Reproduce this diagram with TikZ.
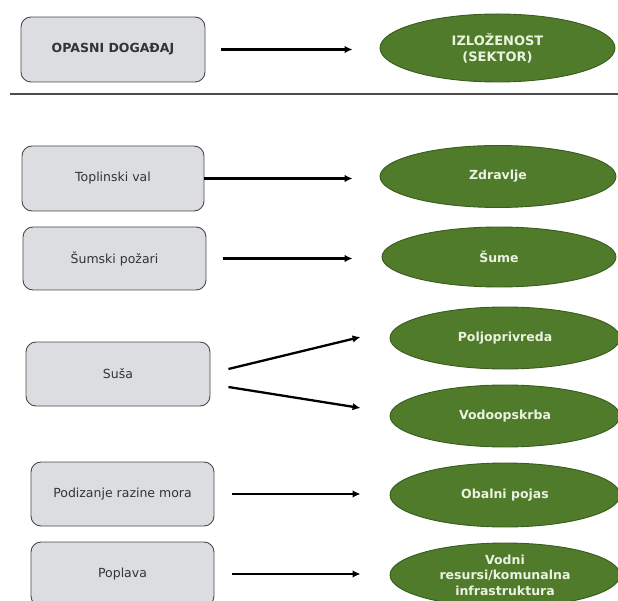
\documentclass[tikz,border=0pt]{standalone}
\usepackage{fontspec}
\setmainfont{DejaVu Sans}
\usetikzlibrary{shapes.geometric,arrows.meta}
\definecolor{boxfill}{HTML}{DCDDE0}
\definecolor{boxline}{HTML}{4A4A4A}
\definecolor{ellfill}{HTML}{4F7B2B}
\definecolor{ellline}{HTML}{3A5C1E}
\definecolor{elltext}{HTML}{EAF2E0}
\tikzset{
  hazard/.style={draw=boxline, fill=boxfill, line width=0.9pt, rounded corners=10pt,
    minimum width=183pt, minimum height=64pt, inner sep=2pt, align=center,
    font=\fontsize{12.5}{15}\selectfont, text=black!80},
  sector/.style={ellipse, draw=ellline, fill=ellfill, line width=0.9pt,
    minimum width=230pt, minimum height=62pt, inner sep=0pt, align=center,
    font=\bfseries\fontsize{12.5}{15.5}\selectfont, text=elltext},
  arr/.style={line width=2.3pt, -{Latex[length=8pt,width=7.5pt]}},
}
\begin{document}
\begin{tikzpicture}[x=1pt,y=-1pt]
\useasboundingbox (0,0) rectangle (618,601);
% header
\node[hazard, minimum width=184pt, minimum height=65pt] (h0) at (113,49.5) {\bfseries OPASNI DOGAĐAJ};
\node[sector, minimum width=235pt, minimum height=68pt, font=\bfseries\fontsize{13}{16}\selectfont] (s0) at (497.5,48) {IZLOŽENOST\\(SEKTOR)};
\draw[arr, shorten <=16pt, shorten >=27pt] (h0.east) -- (h0.east -| s0.west);
\coordinate (l1) at (10,94);
\coordinate (l2) at (618,94);
\draw[line width=1.6pt, black!70] (l1) -- (l2);
% rows
\node[hazard, minimum width=182pt, minimum height=65pt] (h1) at (113,178.5) {Toplinski val};
\node[sector, minimum width=236pt] (s1) at (498,176.5) {Zdravlje};
\draw[arr, shorten >=27pt] (h1.east) -- (h1.east -| s1.west);

\node[hazard, minimum height=63pt] (h2) at (114.5,258.5) {Šumski požari};
\node[sector, minimum width=234pt, minimum height=60pt] (s2) at (499,257) {Šume};
\draw[arr, shorten <=17pt, shorten >=29pt] (h2.east) -- (h2.east -| s2.west);

\node[hazard, minimum width=184pt] (h3) at (118,374) {Suša};
\node[sector] (s3) at (505,338) {Poljoprivreda};
\node[sector] (s4) at (505,416) {Vodoopskrba};
\draw[arr] ([xshift=18pt,yshift=5pt]h3.east) -- ([xshift=-29pt,yshift=1pt]s3.west);
\draw[arr] ([xshift=18pt,yshift=-13pt]h3.east) -- ([xshift=-29pt,yshift=8pt]s4.west);

\node[hazard] (h4) at (122.5,494) {Podizanje razine mora};
\node[sector, minimum height=64pt] (s5) at (505,495) {Obalni pojas};
\draw[arr, shorten <=18pt, shorten >=29pt] (h4.east) -- (h4.east -| s5.west);

\node[hazard] (h5) at (122.5,574) {Poplava};
\node[sector, minimum height=64pt] (s6) at (505,575) {Vodni\\resursi/komunalna\\infrastruktura};
\draw[arr, shorten <=18pt, shorten >=29pt] (h5.east) -- (h5.east -| s6.west);
\end{tikzpicture}
\end{document}
